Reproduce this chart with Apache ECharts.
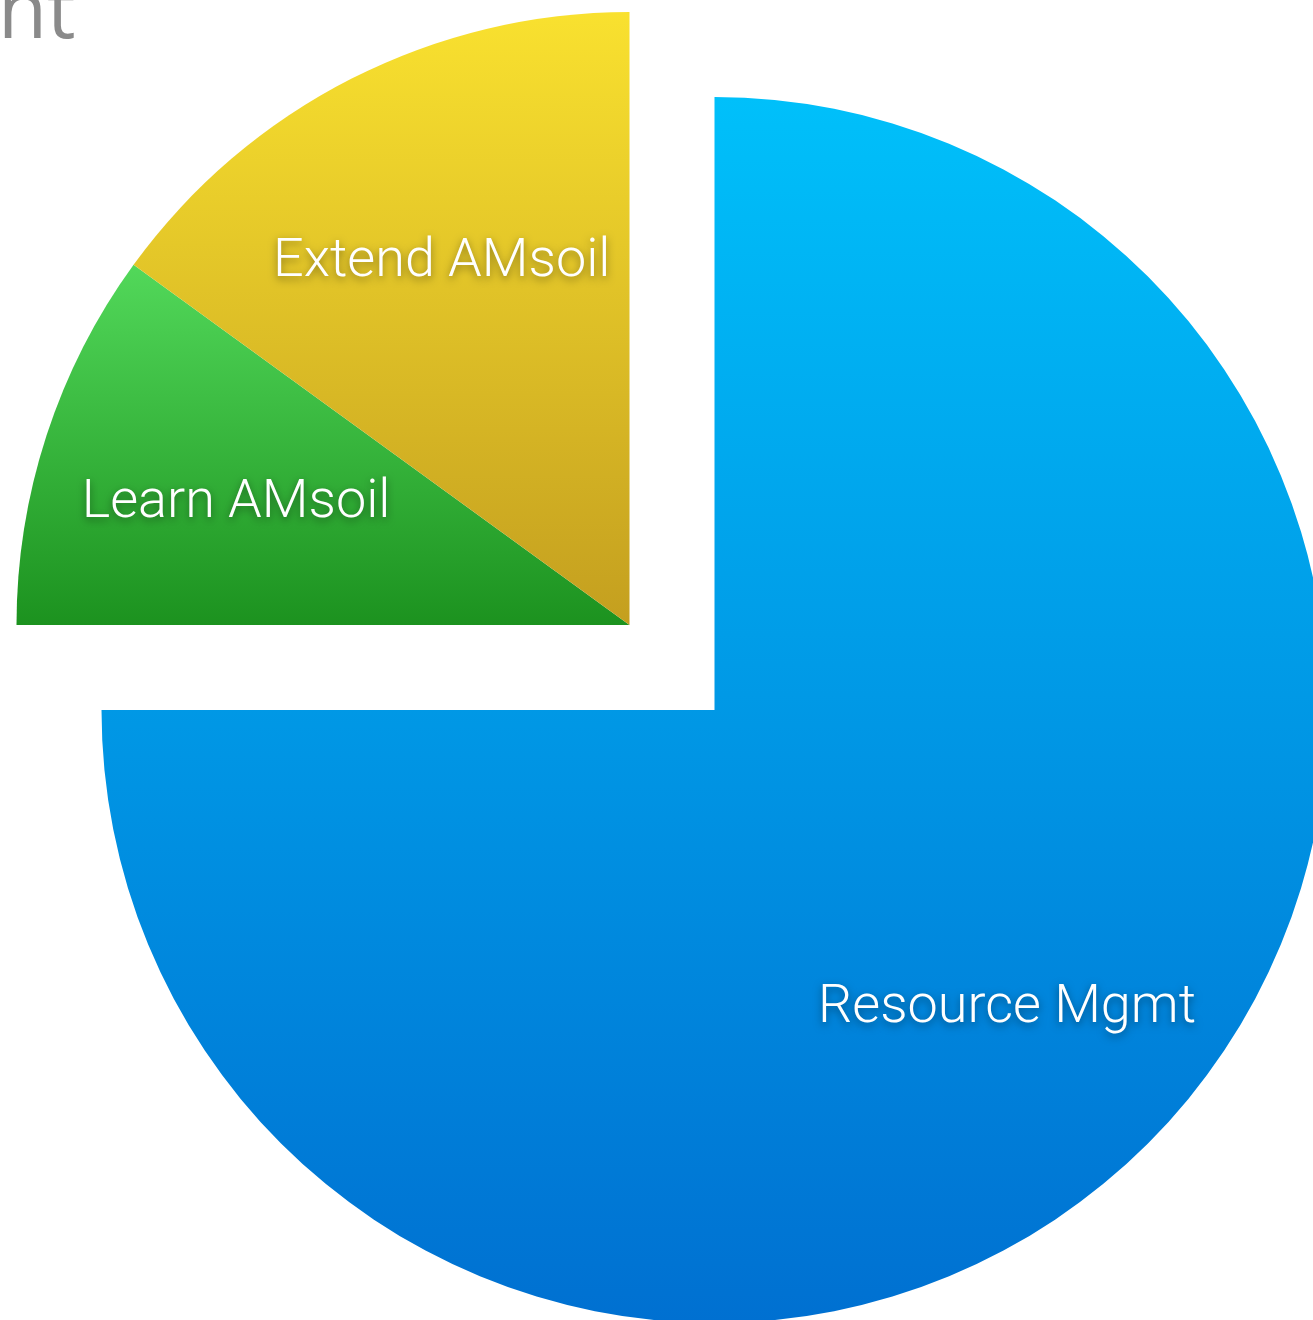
<!DOCTYPE html>
<html>
<head>
<meta charset="utf-8">
<title>AMsoil effort</title>
<script src="https://cdn.jsdelivr.net/npm/echarts@6/dist/echarts.min.js"></script>
<style>
    html, body {margin: 0; padding: 0; background: #fff;}
    #chart {width: 1313px; height: 1320px;}
</style>
</head>
<body>
<div id="chart"></div>
<script>
// slice data, clockwise from 12 o'clock
var names = ['Resource Mgmt', 'Learn AMsoil', 'Extend AMsoil'];
var values = [75, 10, 15];
var topColors = ['#00c0fa', '#52d85a', '#f9e12f'];
var bottomColors = ['#0070d1', '#1c921f', '#c49f1f'];
// which slices are pulled out of the pie together
var pulled = [false, true, true];

var R = 613;
var labelRatio = 0.67;   // label distance from centre, as part of radius

var myChart = echarts.init(document.getElementById('chart'));

function grad(i) {
    return new echarts.graphic.LinearGradient(0, 0, 0, 1, [
        {offset: 0, color: topColors[i]},
        {offset: 1, color: bottomColors[i]}
    ]);
}

function buildData(showPulled) {
    var total = values.reduce(function (a, b) { return a + b; }, 0);
    var cum = 0;
    var out = [];
    for (var i = 0; i < values.length; i++) {
        var mid = 90 - (cum + values[i] / 2) / total * 360;
        cum += values[i];
        var rad = mid * Math.PI / 180;
        // inside labels sit at R/2 by default, push them out a bit
        var extra = (labelRatio - 0.5) * R;
        var visible = pulled[i] === showPulled;
        out.push({
            name: names[i],
            value: values[i],
            itemStyle: visible ? {color: grad(i)} : {color: 'rgba(0,0,0,0)'},
            label: {
                show: visible,
                offset: [extra * Math.cos(rad), -extra * Math.sin(rad) + 6]
            }
        });
    }
    return out;
}

function pieSeries(center, showPulled) {
    return {
        type: 'pie',
        center: center,
        radius: [0, R],
        startAngle: 90,
        clockwise: true,
        silent: true,
        avoidLabelOverlap: false,
        labelLine: {show: false},
        emphasis: {disabled: true},
        label: {
            position: 'inside',
            formatter: '{b}',
            color: '#ffffff',
            fontSize: 54,
            fontWeight: 300,
            fontFamily: 'Roboto, "Helvetica Neue", sans-serif',
            textBorderWidth: 0,
            textShadowColor: 'rgba(0,0,0,0.45)',
            textShadowBlur: 8,
            textShadowOffsetY: 3
        },
        data: buildData(showPulled)
    };
}

var option = {
    animation: false,
    title: {
        text: 'nt',
        left: -7,
        top: -30,
        textStyle: {
            color: '#8a8a8a',
            fontSize: 80,
            fontWeight: 'normal',
            fontFamily: '"Open Sans", sans-serif'
        }
    },
    series: [
        pieSeries([714.5, 710], false),
        pieSeries([629.5, 625], true)
    ]
};

myChart.setOption(option);
</script>
</body>
</html>
